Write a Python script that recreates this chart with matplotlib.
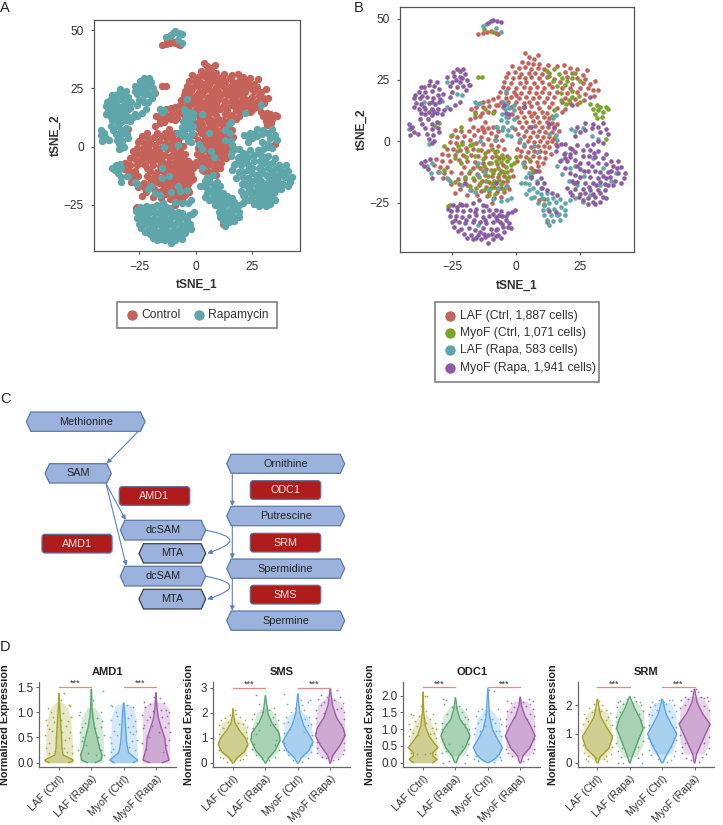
# Fibroblast tSNE maps, polyamine pathway and violin panels
import matplotlib
matplotlib.use('Agg')
import matplotlib.pyplot as plt
from matplotlib.patches import Polygon, Rectangle, FancyBboxPatch, FancyArrowPatch

plt.rcParams['font.family'] = ['Liberation Sans', 'DejaVu Sans']

W, H = 723, 825
RED, GREEN, TEAL, PURPLE = '#c5635a', '#7ba428', '#5fa6ab', '#8c5ba6'
INK = '#333333'

# tSNE points, grouped by cell type and condition
LAF_CTRL = [
    (-15, 43.5), (-13, 44), (-11.5, 44.6), (-10, 45), (-8, 44), (-7, 43.8),
    (5, 34.5), (7, 33.6), (2.2, 32.4), (4.6, 32), (6.6, 31.5), (9, 31.6), (-1.6, 30.6), (1, 30), (3.5, 30.4), (6, 29.6), (8.6, 30), (11, 29.4),
    (21, 30), (24, 29.6), (-3, 28), (-0.4, 28.3), (2, 27.6), (5, 27.9), (7.4, 28), (10, 27.5), (13, 28), (19, 28.2), (22, 27.7), (26, 27),
    (-4, 26), (-1.4, 25.6), (1, 26), (3.5, 25.8), (6, 26.3), (9, 25.7), (12, 26), (15, 25.5), (20, 26.1), (24, 25.6), (27, 25.5),
    (-4.6, 24), (-2, 23.7), (1.5, 23.6), (4, 24.2), (7, 23.8), (10, 24.1), (13, 23.5), (17, 24), (22, 23.4), (26, 23.7), (29, 23.4),
    (-5, 22), (-3, 21.6), (0, 21.8), (3, 22.1), (5.6, 21.5), (8, 22), (11, 21.6), (14, 22.1), (18, 21.6), (21, 21.9), (25, 21.5), (28, 21.8), (30, 21),
    (-4, 19.7), (-1, 20.2), (2, 19.7), (5, 20), (7.6, 19.6), (10, 20.2), (13, 19.8), (16, 20), (20, 19.6), (24, 19.9), (27, 19.4),
    (-7, 18), (-4, 17.7), (-2, 18.2), (1, 17.8), (4, 18.1), (6.5, 17.5), (9, 18), (12, 17.6), (15, 18), (19, 17.7), (23, 17.4),
    (-13, 16), (-11, 16.6), (-9, 17.2), (-6, 16), (-3, 15.8), (0, 16), (3, 15.6), (5, 16.1), (8, 15.7), (11, 16), (14, 15.6), (18, 15.8), (21, 15.4),
    (-15.5, 14), (-13, 13.8), (-10.5, 14.4), (-8, 14.6), (-5, 13.8), (-2, 14), (1, 13.7), (3, 13.9), (6, 14.2), (9, 13.7), (13, 14), (16, 13.6),
    (-16, 12), (-13.5, 11.6), (-11, 12), (-8.5, 12.2), (2, 11.8), (5, 12), (7, 11.5), (10, 12), (12, 11.6), (-16, 10), (-14, 10.4), (-3, 10), (3, 9.8), (6, 10.2), (8, 9.7), (11, 10), (13, 9.6),
    (1, 8), (4, 7.8), (6.5, 8.2), (9, 7.7), (12, 8), (14, 7.4), (2.5, 6), (5, 5.8), (7.5, 6.2), (10, 5.7), (12.5, 6), (15, 5.6), (4, 4), (6.6, 3.8), (9, 4.1), (11.5, 3.7), (14, 3.9),
    (3, 2), (5.5, 1.8), (8, 2.2), (10.5, 1.7), (13, 1.9), (15, 1.5), (4.5, 0), (7, -0.2), (9.5, 0.2), (12, -0.3), (14, 0), (3, -2), (6, -2.2), (8.5, -1.8), (11, -2.1), (13, -2.4),
    (2, -4), (4.5, -4.3), (7, -3.9), (9.5, -4.1), (11.5, -4.4), (1.5, -6), (4, -6.3), (6.5, -6), (9, -6.4), (0.5, -8), (3, -8.4), (5.5, -8), (8, -8.6), (3.5, -10.4), (6, -10.8), (8.5, -10.2), (6.5, -12.6),
    (-12, 7.8), (-13.5, 6), (-11, 5.4), (-15, 4.4), (-12.6, 3.6), (-10, 3.2), (-24, 4.4), (-21.5, 4), (-18.6, 4.2), (-16.4, 2.4), (-13.8, 1.6), (-11, 1), (-8.4, 0.6),
    (-25.5, 2), (-23, 1.6), (-20.4, 2), (-18, 0.6), (-26, -0.4), (-23.5, -0.6), (-21, -0.2), (-15.6, -0.6), (-12.8, -1), (-10, -1.6), (-7, -2), (-27, -3), (-24.6, -3), (-22, -3.4), (-19.4, -2.6), (-16.8, -3), (-13.8, -3.6), (-11, -4), (-8.4, -4.4),
    (-29, -5), (-26.5, -5.6), (-23.8, -5.4), (-20.6, -5.6), (-17.8, -5.4), (-14.8, -6), (-12, -6.4), (-9.4, -6.6), (-6.6, -7), (-31.5, -7.2), (-29, -8), (-26, -8), (-22.4, -7.8), (-19, -8), (-16, -8.4), (-13, -8.8), (-10.6, -9), (-7.6, -9.4), (-5, -9.6),
    (-32, -9.6), (-29.6, -10.4), (-27, -10.6), (-20.4, -10.4), (-17, -10.8), (-14, -11), (-11.6, -11.4), (-8.6, -11.8), (-6, -12), (-30.6, -12.4), (-28, -13), (-25.5, -12.6), (-21.6, -12.8), (-18.4, -13), (-15.4, -13.4), (-12, -13.6), (-9.6, -14), (-7, -14.4), (-4.6, -14),
    (-28.6, -15), (-22.8, -15.4), (-20, -15.4), (-16.4, -15.6), (-13.4, -16), (-10.6, -16.4), (-7.8, -16.6), (-5, -16.8), (-3.4, -16), (-25.5, -17.4), (-22.4, -17.6), (-19, -17.8), (-14.6, -18), (-11.6, -18.6), (-8.8, -18.8), (-6, -19), (-3.6, -18.4),
    (-22, -19.6), (-17.6, -20), (-13.8, -20.2), (-10.6, -20.6), (-7.6, -20.8), (-4.8, -20.6), (-11.4, -22.4), (-8.6, -23), (-9.4, -25), (-26, -26), (9, -24), (11, -23.4), (10.8, -25.8), (12.2, -33),
    (-8, 2), (-5.6, 0.4), (-4.6, -3), (-3.4, -6), (-2, -11.6), (-1.4, -14), (-2.8, -19.6), (-6, -22.6), (-19, -21.8), (-24, -21), (-15.4, -22), (-12.8, 5), (-17, 6), (-9, 5.8), (-7, 4), (0, 18.8), (-6.4, 20), (-1.6, 11), (0.4, 10), (-0.6, 5), (0.8, 3), (1, -0.4), (0.4, -3.2),
    (16, 7), (16.6, 4), (15.6, -1), (13.6, -5), (11.4, -7), (10.6, -9), (9, -12), (17.8, 12), (19, 13.2), (24, 15), (26.6, 17), (30.4, 18.6), (32, 21), (3.6, 36), (8.4, 35), (12.6, 31), (16, 30.6), (18.6, 31), (27.6, 29), (31, 24.6), (-7, 14.8), (-18, 9), (-17.6, 13),
]
MYOF_CTRL = [
    (-12.6, 45.6), (-9, 44.5), (-15, 26), (-13.4, 26.2), (-18, 23), (12, 28.6), (15, 29.4), (16.6, 27.6), (14.6, 24.6), (18, 25.6), (20, 24.4), (23, 27.8), (16, 22.4), (19, 22.8),
    (21.8, 20.6), (24.6, 18.6), (22, 18), (17.6, 17), (25, 15.8), (19.6, 15), (15, 12.6), (14, 10.4), (30, 13), (31, 11), (32, 12.8), (33, 14), (34, 12), (35, 13.8), (36, 13), (31.6, 9.4), (35, 1), (-21.5, 6), (-30, 7.6), (-31.8, 6.4),
    (-25, 2.6), (-21, -1), (-18, -1.6), (-24, -7), (-22.6, -1.8), (-19.6, -6.6), (-17, -1), (-15, -3.4), (-28, -2), (-12, -4.6), (-9.6, -3), (-7.4, -4), (-5.4, -5.6), (-3.6, -8), (-2, -9.6), (-4, -10.6), (-6, -8.4), (-8, -6), (-10, -9), (-13, -7.4), (-3.4, -12.6), (-6.6, -13.2),
    (-9, -12.8), (-11, -14), (-13, -12), (-15.4, -10), (-18, -12), (-20, -14.6), (-17, -15), (-14, -17), (-11.6, -16), (-8.6, -16), (-6, -17.6), (-3.6, -15), (-15.6, -19), (-18, -18.4), (-12.6, -20), (-10, -19), (-7, -19.4), (-8.4, -21.6), (-10.6, -22), (-4.6, -19.6),
    (-24, -16.6), (-26.6, -15.4), (-28, -11.6), (3, -10), (5, -7.4), (0, -6.6), (6, -14), (6.6, -11.6), (11, -25.6), (-26.6, -26.4), (-9, 11.6), (-12, 13), (-16, 11),
    (-2.6, -7), (-1, -9), (-5, -7), (-7, -11), (-4.6, -12.6), (-2.6, -14.6), (-8, -8), (-10, -11.6), (-12.6, -10), (-16, -6), (-19, -4), (-23, -4), (-21.6, -9), (-14.6, -14.4), (-6.6, -15.6), (-9.6, -17.6), (29, 15), (31.6, 14.6), (33.6, 10), (13, 26.6), (22, 25.6), (25, 24.6), (17.6, 19.6), (20.6, 17),
]
LAF_RAPA = [
    (-13, 47), (-11.6, 47.6), (-8, 46), (-6, 44.6), (-27, 24), (-23, 19.4), (-21, 19), (-36, 16), (-29, 16.6), (-27, 14), (-15, 15), (-16, 16), (-14, 15.6), (-4, 20.6), (-3.4, 15), (-2.6, 13.6), (-4.4, 13), (-1, 12.6), (-5.6, 11), (-4, 10), (-1, 9), (-6, 8.6), (-3.4, 8), (-5, 6), (-5.6, 4.4), (-7.6, 5.8),
    (-3.4, 2.6), (-2, 2), (1.6, 1), (3, -1), (13, 3), (15.6, 2.6), (16, 0.6), (14.6, 9.6), (15.6, 10.6), (23, 4), (21.6, 5), (26, 5.6), (29.6, 2), (32, 1), (-42, 5), (-34, -1), (-33, -9), (-35, -10), (-33.4, -13), (-30, -12.6), (-27, -15), (-26, -16), (-21, -18), (-18, -20), (-16, -20.6),
    (-9, -23.6), (-6, -24.2), (-3.6, -24), (-2, -23), (-15, -9), (-15, -13.6), (-12, -12.6), (-11, -19.4), (-7, -19), (-4, -18.4), (-14, 0), (-8, 0.6), (-8, 6), (2.6, -9), (7, -2), (8, -4.4), (5, -13), (6, -15), (3.6, -17), (5, -17.6), (6.6, -19), (5, -20), (8, -20.6), (9.6, -21.6), (7, -22.6), (10, -23), (12, -23.6), (8.6, -25), (11, -26), (13, -25), (15.6, -24.6),
    (10.4, -28), (12.6, -27.6), (15, -27.4), (17.6, -26.6), (11, -30), (13.6, -30), (16, -30), (12, -32), (14.6, -32.4), (17, -32), (19, -28), (21, -24), (23, -23), (26, -24.6), (29, -22), (16, -10), (17.4, -7.6), (19, -4.6), (21, -11), (23, -10), (18, -13.4), (20.6, -16), (24, -18), (26.6, -14), (30, -7), (34, -11), (37, -16), (33, -18), (39, -13), (-15, -34),
    (6, -23), (4, -21.6), (12, -21), (14.6, -23), (17, -23.6), (19, -25), (16.6, -29.6), (19, -30), (13, -34), (9.6, -19), (8, -16), (4, -14.6), (-1.6, 6), (-3, 4.4), (-1, 14.6), (-5, 16), (2, -17),
]
MYOF_RAPA = [
    (-11, 48), (-10, 49), (-9, 49.5), (-7.6, 49), (-6, 48.6), (-27, 26), (-24.6, 28.4), (-22, 28.6), (-20, 27.6), (-19, 25), (-21, 25.6), (-23.6, 25), (-26, 22.6), (-23, 22), (-20.6, 22.6), (-19.6, 21), (-25, 20), (-28.6, 19.4),
    (-36, 22), (-34, 23), (-32, 22.6), (-30, 21.4), (-38, 20), (-35.6, 20), (-33, 20.4), (-30.6, 19), (-40, 17.6), (-37.6, 17.6), (-35, 18), (-32.4, 17.6), (-29.6, 17.4), (-39, 15.4), (-37, 15), (-34, 15.4), (-31.6, 15), (-38, 13), (-35.6, 13), (-33, 13), (-30.4, 13), (-28, 12.6), (-26, 13), (-24, 14.6), (-22, 16), (-35.6, 11), (-33, 10.8), (-31, 11.6),
    (-34.6, 9), (-33, 7), (-42, 7), (-41, 5.6), (-40, 3.6), (-38.4, 3), (-40.6, 6), (-35.6, 5.6), (-33, 4.8), (-30.6, 5.6), (-35, 3), (-32.6, 2.6), (-30, 3.8), (-34, 1), (-33, -0.6), (-35.6, -8), (-37, -9), (-36, -10), (-33.6, -7.4), (-34.6, -11.4), (-33, -15), (-20, -17), (-8, -17), (-4.6, 14.8), (-2.6, 11),
    (-24.6, -26), (-22, -25.4), (-19.6, -26), (-17, -25), (-14.6, -24), (-13, -26), (-25.6, -28.4), (-23, -28), (-20.6, -28.4), (-18, -28), (-15.6, -27.4), (-13, -28.6), (-10.6, -28), (-8, -28), (-6, -28.6), (-26, -30.6), (-23.6, -30.4), (-21, -31), (-18.4, -30.6), (-15.6, -30), (-13, -31), (-10.4, -30.4), (-8, -31), (-5.4, -30.4), (-3, -29.4),
    (-25, -33), (-22.4, -33), (-20, -33.4), (-17, -33), (-14, -33), (-11.6, -33.4), (-9, -33), (-6.4, -33), (-4, -32), (-2.6, -33.4), (-24.4, -35), (-21.4, -35.6), (-18.6, -35.4), (-16, -36), (-13, -35.4), (-10, -35.6), (-7.4, -35.6), (-5, -35), (-2, -35.4), (-20.4, -37.6), (-17.6, -38), (-15, -38), (-12.4, -37.6), (-9.6, -37.6), (-7, -38), (-4.6, -37), (-17, -40), (-13.6, -40), (-11, -41.4), (-9, -40), (-6, -39.6), (-1.6, -29), (-0.6, -28),
    (16, -2), (19, -1), (21, -2.6), (24, -1.6), (26, -3.6), (29, -3.4), (32, -4), (35, -5), (15.6, -4), (18.6, -5), (21, -5), (23, -4.4), (26, -6), (28.6, -6), (31, -6.6), (34, -7), (37, -8), (40, -8), (17, -8), (20, -8), (23, -7.6), (25, -9), (28, -9), (32, -9), (35, -9.4), (38, -10), (41, -10.6), (19, -11), (25, -11.4), (28, -12), (31, -12), (33, -12.6), (36, -12.6), (40, -13), (42.6, -13), (42, -15),
    (23, -13.6), (25, -14.6), (29, -14.6), (32, -15), (35, -15), (38.6, -16), (41, -17), (22, -16), (27, -17), (30, -17), (33, -16.4), (36, -18), (20, -19), (23, -19.6), (26, -19.6), (29, -20), (32, -20), (34.6, -20), (22, -22), (25, -21.6), (28, -23), (31, -22.6), (34, -22.6), (26, -24), (30, -24.6), (33, -24.6),
    (23, 2), (25, 3.6), (27, 4.6), (29.6, 5.6), (32, 6), (34, 7.6), (30, 7), (27, 7.6), (35, 5), (36, 3), (33, 3.6), (24, 6), (32, 0), (30, -1), (34, -0.6),
    (6, -14.6), (7.6, -12), (9.6, -15), (11, -17), (8, -17), (10, -19), (12, -20), (14, -21), (16, -22), (13, -28.6), (15.6, -29), (6, 6), (13, 7), (15, 6), (-4, 11.6), (3, 14), (-11, -38), (22, 14.6), (29, 18),
    (22, -3), (27.6, -1.6), (30.6, -4.6), (24, -10), (21, -6.6), (29.6, -10), (37, -12), (39.6, -11), (34, -14), (36.6, -14.6), (26.6, -12), (21, -13), (24, -16.6), (28.6, -18.6), (31.4, -18), (34.6, -17.6), (38, -18), (21, -20.6), (24.6, -22.6), (27, -21), (30, -21.4), (33, -21), (35, -23), (28, -25.6), (31, -25.6), (22.6, -17), (19, -7), (17.6, -1),
    (-23, -26.6), (-21, -26), (-16, -29), (-11.6, -26.4), (-9, -29.6), (-6.6, -30), (-4, -30.6), (-24, -32), (-19.4, -32), (-16.4, -32), (-12, -32), (-7.6, -32), (-22.6, -36.6), (-14, -37), (-8, -36), (-5.4, -33.6), (-3, -35), (-19, -39.4), (-15.6, -39.6), (-12, -39), (-8, -38.6), (-26.6, -27.6),
    (-37, 22), (-33.6, 24.6), (-31, 24), (-39.4, 19), (-36.6, 18.6), (-33, 16), (-30, 16), (-40, 14), (-36, 14), (-32, 12), (-29, 11), (-37, 11.6), (-34, 12), (-37.6, 9), (-24.4, 26.6), (-22, 26), (-25, 24), (-22, 24), (-18.6, 23), (-20.6, 29.4), (-23, 29.4), (-26, 18), (-31, 8), (-36.6, 7), (-32, 0), (-41.6, 2.6),
]

# Tick values of the two tSNE maps
TSNE_XTICKS = [-25, 0, 25]
TSNE_YTICKS = [-25, 0, 25, 50]

LEGEND_A = ['Control', 'Rapamycin']
LEGEND_B = ['LAF (Ctrl, 1,887 cells)', 'MyoF (Ctrl, 1,071 cells)', 'LAF (Rapa, 583 cells)', 'MyoF (Rapa, 1,941 cells)']

# Pathway boxes: label, left, right, top, bottom in pixels
HEX_NODES = [
    ('Methionine', 26.3, 145, 412, 431.3), ('SAM', 45, 111.3, 463.7, 483),
    ('dcSAM', 120.3, 205.7, 520.3, 540), ('MTA', 139, 205.7, 543.7, 563),
    ('dcSAM', 120.3, 205.7, 566.3, 586), ('MTA', 139, 205.7, 589.3, 609),
    ('Ornithine', 226.7, 344.7, 454.3, 473.3), ('Putrescine', 226.7, 344.7, 506.3, 525.7),
    ('Spermidine', 226.7, 344.7, 559, 578.3), ('Spermine', 226.7, 344.7, 611, 630.3),
]
ENZYME_NODES = [
    ('AMD1', 119.3, 189.7, 486.7, 505.3), ('AMD1', 42, 112, 534.3, 553),
    ('ODC1', 250.3, 320.7, 480.7, 499.3), ('SRM', 250.3, 320.7, 533.3, 552),
    ('SMS', 250.3, 320.7, 585.3, 604),
]
STRAIGHT_ARROWS = [
    ((138.3, 431.3), (106.7, 463.5)), ((106, 483.5), (125.7, 520)), ((106, 483.5), (126.3, 565.7)),
    ((232.3, 473.3), (232.3, 506)), ((232.3, 525.7), (232.3, 558.7)), ((232.3, 578.3), (232.3, 610.7)),
]
CURVED_ARROWS = [((205.7, 530.3), (207.3, 553.3)), ((205.7, 576.3), (207.3, 599.3))]

# Violin panels
GROUPS = ['LAF (Ctrl)', 'LAF (Rapa)', 'MyoF (Ctrl)', 'MyoF (Rapa)']
GROUP_COLORS = ['#a3a32a', '#58a76f', '#5ba6e2', '#a05bab']
GENES = ['AMD1', 'SMS', 'ODC1', 'SRM']
YTICKS = {'AMD1': [0, 0.5, 1, 1.5], 'SMS': [0, 1, 2, 3], 'ODC1': [0, 0.5, 1, 1.5, 2], 'SRM': [0, 1, 2]}
YTICKLABELS = {'AMD1': ['0.0', '0.5', '1.0', '1.5'], 'SMS': ['0', '1', '2', '3'], 'ODC1': ['0.0', '0.5', '1.0', '1.5', '2.0'], 'SRM': ['0', '1', '2']}
YLIMS = {'AMD1': (-0.08, 1.6), 'SMS': (-0.15, 3.24), 'ODC1': (-0.12, 2.41), 'SRM': (-0.14, 2.81)}
BRACKET_Y = {'AMD1': 1.5, 'SMS': 3.0, 'ODC1': 2.25, 'SRM': 2.62}

# Outline of each violin: (values, half widths)
OUTLINES = {
    'AMD1': [
        ([0, .03, .05, .1, .15, .3, .5, .7, .9, 1.1, 1.37], [.3, .42, .44, .3, .13, .09, .08, .06, .04, .02, .004]),
        ([0, .05, .15, .3, .5, .7, .9, 1.1, 1.45], [.12, .3, .33, .25, .18, .1, .05, .02, .004]),
        ([0, .05, .12, .2, .4, .6, .8, 1.0, 1.18], [.3, .43, .3, .15, .09, .07, .05, .03, .006]),
        ([0, .05, .15, .3, .5, .7, .9, 1.1, 1.38], [.2, .4, .36, .3, .27, .16, .07, .03, .004]),
    ],
    'SMS': [
        ([0, .2, .45, .75, 1.0, 1.3, 1.6, 1.9, 2.15], [.02, .12, .35, .46, .38, .2, .06, .02, .004]),
        ([0, .2, .5, .9, 1.2, 1.6, 2.0, 2.68], [.01, .1, .3, .45, .42, .2, .07, .004]),
        ([0, .2, .5, .85, 1.1, 1.5, 2.0, 2.75], [.02, .1, .34, .47, .36, .18, .06, .004]),
        ([0, .3, .7, 1.1, 1.4, 1.8, 2.3, 2.95], [.01, .08, .3, .46, .4, .2, .07, .004]),
    ],
    'ODC1': [
        ([0, .1, .2, .3, .45, .6, .8, 1.1, 1.5, 2.1], [.3, .43, .3, .3, .46, .33, .18, .07, .02, .004]),
        ([0, .2, .45, .8, 1.0, 1.3, 1.6, 1.93], [.02, .1, .3, .45, .36, .14, .05, .004]),
        ([0, .1, .25, .45, .7, 1.0, 1.4, 2.2], [.02, .2, .35, .45, .3, .14, .05, .004]),
        ([0, .2, .45, .8, 1.1, 1.4, 1.7, 1.95], [.02, .08, .3, .46, .32, .14, .04, .004]),
    ],
    'SRM': [
        ([0, .2, .5, .9, 1.2, 1.6, 2.2], [.02, .08, .35, .47, .3, .1, .004]),
        ([0, .2, .6, 1.2, 1.5, 1.9, 2.3], [.01, .07, .2, .41, .33, .15, .004]),
        ([0, .2, .6, 1.0, 1.3, 1.7, 2.2], [.02, .1, .3, .45, .3, .12, .01]),
        ([0, .3, .8, 1.35, 1.7, 2.1, 2.55], [.01, .06, .26, .48, .25, .08, .004]),
    ],
}
# Extent of the dense part of each jitter cloud: (values, half widths)
CLOUDS = {
    'AMD1': [
        ([0, .1, .3, .6, .9, 1.1, 1.2], [.43, .43, .42, .4, .36, .25, .1]),
        ([0, .3, .6, .9, 1.1], [.35, .38, .36, .3, .12]),
        ([0, .2, .5, .9, 1.15], [.43, .43, .4, .38, .25]),
        ([0, .5, .9, 1.1, 1.2], [.43, .42, .42, .38, .2]),
    ],
    'SMS': [
        ([.1, .4, .8, 1.2, 1.6, 1.8], [.1, .42, .46, .44, .36, .1]),
        ([.2, .5, 1.0, 1.5, 2.0, 2.2], [.2, .42, .44, .4, .28, .1]),
        ([.2, .5, 1.0, 1.5, 1.8, 2.1], [.25, .42, .46, .42, .35, .1]),
        ([.2, .6, 1.2, 1.8, 2.3, 2.6], [.3, .44, .46, .44, .4, .15]),
    ],
    'ODC1': [
        ([0, .1, .5, .9, 1.2, 1.45], [.4, .43, .44, .38, .25, .1]),
        ([.2, .5, 1.0, 1.4, 1.7], [.25, .42, .44, .38, .15]),
        ([.05, .4, .9, 1.3, 1.6], [.3, .44, .4, .34, .1]),
        ([.2, .5, 1.0, 1.5, 1.85], [.3, .44, .46, .42, .2]),
    ],
    'SRM': [
        ([.1, .4, .9, 1.4, 1.75, 1.9], [.15, .42, .46, .42, .3, .1]),
        ([.2, .6, 1.2, 1.8, 2.15], [.2, .4, .45, .42, .2]),
        ([.3, .7, 1.2, 1.7, 2.1], [.3, .42, .44, .42, .25]),
        ([.3, .7, 1.3, 1.9, 2.3], [.3, .45, .47, .45, .25]),
    ],
}
# Sparse jitter dots: (offset from category, value)
DOTS = {
    'AMD1': [
        [(-.35, 1.08), (.3, 1.15), (.34, 1.13), (-.25, 1.0), (.12, .98), (-.4, .85), (.38, .9), (-.15, .8), (.22, .72), (-.3, .66), (.05, 1.25), (.15, 1.38), (-.42, .55), (.35, .6), (-.1, .5), (.2, .45), (-.3, .4), (.4, .33), (-.2, .9), (.28, .82), (-.36, .75), (.1, .6), (-.22, .62), (.32, .48), (-.4, .3), (.15, .3), (-.12, .24), (.26, .22), (-.3, .2), (.4, .2), (.05, .85), (-.05, .7)],
        [(-.35, 1.0), (.3, 1.0), (-.38, .95), (.35, 1.42), (-.2, .78), (.18, .88), (.3, .7), (-.36, .6), (.38, .55), (-.12, .62), (.1, .68), (-.3, .42), (.25, .35), (-.4, .25), (.4, .15), (.34, .82), (-.25, .5), (.05, 1.25), (-.3, .7), (.22, .5), (-.15, .35), (.3, .25), (-.35, .15), (.15, .15), (-.1, .2)],
        [(-.4, 1.15), (-.36, 1.12), (-.02, 1.17), (.3, 1.1), (.1, 1.15), (-.25, 1.0), (.22, .95), (-.38, .85), (.36, .82), (-.15, .76), (.12, .7), (-.3, .62), (.3, .56), (-.42, .5), (.4, .44), (-.12, .38), (.18, .32), (-.32, .28), (.28, .72), (-.22, .55), (.38, .62), (-.38, .4), (.25, .42), (-.2, .92), (.2, .6), (-.4, .22), (.35, .26), (.14, .88)],
        [(-.38, 1.2), (-.2, 1.16), (.25, 1.18), (-.34, 1.1), (.12, 1.28), (.3, 1.05), (-.1, 1.02), (.4, 1.0), (-.42, .95), (.2, .9), (-.28, .85), (.36, .78), (-.05, 1.3), (.28, .7), (-.4, .68), (.1, .6), (-.22, .5), (.4, .45), (.34, .92), (-.36, .74), (-.18, .9), (.15, 1.05), (.42, .6), (-.42, .4), (.3, .35), (-.3, .28), (.22, .22), (-.12, .72)],
    ],
    'SMS': [
        [(-.38, 1.7), (.36, 1.72), (-.25, 1.8), (.22, 1.82), (.1, 1.95), (-.1, 1.9), (.05, 2.1), (-.4, .25), (.4, .3), (-.3, .2), (.3, .15), (-.18, .05), (.2, .1), (-.42, 1.5), (.43, 1.45), (-.15, 1.65), (.15, 1.6), (-.05, .1), (.3, 1.55), (-.32, 1.4), (.4, 1.25), (-.44, 1.15), (.42, 1.0), (-.44, .85), (.44, .7), (-.42, .5)],
        [(-.3, 2.7), (-.2, 2.35), (.25, 2.2), (.3, 1.95), (-.36, 1.95), (.1, 2.1), (-.12, 2.05), (.38, 1.7), (-.4, 1.75), (-.28, .3), (.3, .25), (.12, .12), (-.42, .55), (.43, .5), (.22, 1.85), (-.25, 1.6), (.36, 1.3), (-.1, .15), (-.38, 1.4), (.42, 1.05), (-.44, 1.0), (.3, .7), (-.35, .75), (.28, 1.55), (-.2, 1.3), (.15, 1.5), (-.3, 1.15), (.34, .9)],
        [(-.42, 2.75), (.1, 2.5), (.32, 2.42), (.38, 2.5), (-.32, 2.35), (.2, 2.1), (-.2, 2.05), (.34, 1.85), (-.38, 1.85), (.12, 2.3), (-.1, 2.2), (-.3, .3), (.3, .2), (.4, .42), (-.42, .5), (.22, 1.75), (-.15, .1), (.12, .05), (-.42, 1.6), (.42, 1.55), (-.3, 1.65), (.3, 1.5), (-.44, 1.2), (.44, 1.1), (-.25, 1.35), (.2, 1.25), (-.44, .8), (.44, .7)],
        [(-.3, 2.7), (.2, 2.9), (-.1, 2.65), (.3, 2.62), (-.38, 2.55), (.4, 2.4), (-.2, 2.45), (.12, 2.5), (-.4, .4), (.38, .35), (-.25, .25), (.25, .15), (.1, .1), (-.42, .6), (.44, .5), (-.12, .2), (.32, 2.2), (-.3, 2.3), (-.44, 2.1), (.44, 2.05), (-.2, 2.0), (.2, 2.15), (-.44, 1.8), (.44, 1.75), (-.34, 1.5), (.34, 1.55), (-.44, 1.2), (.44, 1.1), (-.4, .85), (.42, .8)],
    ],
    'ODC1': [
        [(.05, 2.0), (.12, 1.98), (-.38, 1.46), (-.32, 1.42), (.3, 1.45), (.36, 1.2), (-.25, 1.25), (.2, 1.3), (-.42, 1.15), (-.12, 1.4), (.4, 1.02), (.1, 1.55), (-.05, 1.7), (-.4, 1.0), (.28, 1.05), (-.18, 1.1), (.08, 1.18), (.34, .9), (-.3, .9), (-.42, .8), (.4, .75), (.2, .85), (-.15, .82), (-.38, .3), (.38, .27), (-.2, .25), (.2, .28), (.05, .27)],
        [(-.38, 1.9), (-.35, 1.75), (-.3, 1.88), (.32, 1.6), (-.12, 1.65), (.2, 1.5), (-.25, 1.45), (.38, 1.3), (-.4, 1.2), (.28, 1.35), (-.38, 0), (.3, 0), (-.42, .3), (.36, .22), (-.2, .05), (-.3, .35), (.1, 1.7), (.4, .55), (-.4, 1.0), (.42, 1.0), (-.3, 1.15), (.3, 1.15), (-.2, .55), (.2, .5), (-.42, .7), (.42, .75)],
        [(-.3, 1.55), (.05, 2.18), (.18, 2.15), (-.38, 1.4), (.36, 1.3), (-.22, 1.3), (.3, 1.6), (-.1, 1.45), (.22, 1.2), (-.4, 1.05), (.4, 1.15), (-.3, 1.2), (.12, 1.3), (-.42, .1), (.4, .08), (.2, .02), (-.3, .05), (-.18, 1.6), (-.42, .85), (.42, .8), (-.25, .95), (.25, .95), (-.1, 1.1), (.34, .95), (-.38, .2), (.36, .18)],
        [(-.42, 1.85), (.4, 1.85), (.3, 1.75), (-.3, 1.78), (.18, 1.7), (-.18, 1.65), (.38, 1.6), (-.42, 1.55), (.1, 1.8), (-.05, 1.9), (.28, 1.9), (.44, 1.4), (-.44, 1.3), (-.38, .28), (.4, .3), (-.25, .2), (.25, .12), (.1, .05), (-.3, 1.5), (.3, 1.45), (-.44, 1.1), (.44, 1.1), (-.44, .75), (.44, .7), (-.2, 1.35), (.2, 1.3), (-.44, .4), (.44, .42)],
    ],
    'SRM': [
        [(-.4, 1.7), (.38, 1.72), (-.25, 1.9), (.25, 1.85), (.15, 2.0), (-.1, 2.05), (.05, 2.15), (-.35, .12), (-.3, .05), (.3, .05), (.2, .12), (-.42, .35), (.42, .3), (-.18, 1.75), (.12, 1.8), (-.05, .18), (.34, 1.6), (-.36, 1.55), (-.44, 1.35), (.44, 1.3), (-.3, 1.45), (.25, 1.5), (-.44, .6), (.44, .55), (-.3, .25), (.26, .22)],
        [(-.38, 2.12), (-.3, 2.15), (.3, 2.1), (.35, 2.0), (-.4, 1.95), (-.2, 2.05), (.2, 2.15), (.42, 1.8), (-.42, 1.6), (-.35, 0), (-.2, 0), (.38, 0), (.38, .3), (-.38, .4), (.12, 2.28), (-.1, 2.22), (.25, .15), (-.28, .2), (-.42, 1.2), (.44, 1.25), (-.3, 1.75), (.28, 1.7), (-.42, .7), (.42, .75), (-.25, .5), (.26, .55), (-.36, 1.45), (.36, 1.5)],
        [(-.1, 2.2), (.2, 2.2), (.3, 2.18), (-.3, 2.12), (.38, 2.0), (-.38, 1.95), (-.22, 2.0), (.12, 2.05), (.42, 1.8), (-.42, 1.7), (-.35, .28), (.36, .25), (.15, .02), (-.12, .12), (.28, .1), (-.4, .45), (.4, .4), (.05, 2.12), (-.42, 1.3), (.44, 1.25), (-.3, 1.65), (.3, 1.6), (-.44, .85), (.44, .8), (-.28, .6), (.26, .55), (-.15, 1.85), (.2, 1.8)],
        [(-.42, 2.2), (-.3, 2.3), (.1, 2.45), (.2, 2.3), (.38, 2.3), (.42, 2.15), (-.2, 2.22), (.3, 2.25), (-.1, 2.5), (.05, 2.55), (-.38, .35), (.36, .3), (-.25, .15), (.22, .2), (-.4, .55), (.44, .5), (.15, .02), (-.12, .1), (-.44, 1.9), (.44, 1.85), (-.3, 2.0), (.3, 1.98), (-.44, 1.4), (.44, 1.35), (-.44, .95), (.44, .9), (-.3, .7), (.3, .68)],
    ],
}


def px_axes(fig, x0, y0, x1, y1):
    return fig.add_axes([x0 / W, 1 - y1 / H, (x1 - x0) / W, (y1 - y0) / H])


def tsne_axes(fig, box, xlim, ylim):
    ax = px_axes(fig, *box)
    ax.set_xlim(*xlim)
    ax.set_ylim(*ylim)
    ax.set_xticks(TSNE_XTICKS, ['\u221225', '0', '25'])
    ax.set_yticks(TSNE_YTICKS, ['\u221225', '0', '25', '50'])
    ax.tick_params(labelsize=8.6, length=2.5, width=0.8, color='#555555', labelcolor=INK, pad=4.5)
    ax.set_xlabel('tSNE_1', fontsize=8.6, fontweight='bold', color=INK, labelpad=4.5)
    ax.set_ylabel('tSNE_2', fontsize=8.6, fontweight='bold', color=INK, labelpad=1.5)
    for s in ax.spines.values():
        s.set_color('#555555')
        s.set_linewidth(0.9)
    return ax


def scatter_group(ax, pts, color, size):
    ax.scatter([p[0] for p in pts], [p[1] for p in pts], s=size, color=color, linewidths=0)


def hexagon(ov, left, right, top, bottom, edge='#5d79a8', lw=0.9):
    mid = (top + bottom) / 2
    d = 4.5
    pts = [(left, mid), (left + d, top), (right - d, top), (right, mid), (right - d, bottom), (left + d, bottom)]
    ov.add_patch(Polygon(pts, closed=True, facecolor='#9bb3dc', edgecolor=edge, linewidth=lw, zorder=3))


fig = plt.figure(figsize=(W / 100, H / 100), dpi=100)

# Panel A
ax_a = tsne_axes(fig, (93.7, 20, 300, 251), (-45.3, 46.3), (-44.8, 54.4))
scatter_group(ax_a, LAF_CTRL + MYOF_CTRL, RED, 28)
scatter_group(ax_a, LAF_RAPA + MYOF_RAPA, TEAL, 28)

# Panel B
ax_b = tsne_axes(fig, (399.7, 7, 634, 251.7), (-45.5, 46.1), (-45, 54.7))
scatter_group(ax_b, LAF_CTRL, RED, 11)
scatter_group(ax_b, MYOF_CTRL, GREEN, 11)
scatter_group(ax_b, LAF_RAPA, TEAL, 11)
scatter_group(ax_b, MYOF_RAPA, PURPLE, 11)

# Overlay in pixel coordinates for legends, letters and the pathway
ov = fig.add_axes([0, 0, 1, 1], zorder=5)
ov.set_xlim(0, W)
ov.set_ylim(H, 0)
ov.axis('off')

for letter, x, y in [('A', 0, 8), ('B', 354, 8), ('C', 0, 399), ('D', 0, 647)]:
    ov.text(x, y, letter, fontsize=10.5, color='#222222', ha='left', va='center')

ov.add_patch(Rectangle((116.7, 301.7), 160, 26, facecolor='white', edgecolor='#808080', linewidth=1.2))
for cx, tx, col, lab in zip([131.7, 199], [141, 208], [RED, TEAL], LEGEND_A):
    ov.scatter([cx], [314.7], s=56, color=col, linewidths=0)
    ov.text(tx, 314.7, lab, fontsize=8.7, color=INK, va='center')

ov.add_patch(Rectangle((435.3, 301.7), 164, 80.6, facecolor='white', edgecolor='#808080', linewidth=1.2))
for cy, col, lab in zip([316, 333, 350.3, 368], [RED, GREEN, TEAL, PURPLE], LEGEND_B):
    ov.scatter([450.3], [cy], s=56, color=col, linewidths=0)
    ov.text(459.7, cy, lab, fontsize=8.7, color=INK, va='center')

# Panel C
for lab, left, right, top, bottom in HEX_NODES:
    dark = lab == 'MTA'
    hexagon(ov, left, right, top, bottom, edge='#3c3f4a' if dark else '#5d79a8')
    ov.text((left + right) / 2, (top + bottom) / 2, lab, fontsize=7.8, color='#222222', ha='center', va='center', zorder=4)
for lab, left, right, top, bottom in ENZYME_NODES:
    ov.add_patch(FancyBboxPatch((left + 2, top + 2), right - left - 4, bottom - top - 4, boxstyle='round,pad=2,rounding_size=3',
                                facecolor='#b01c1c', edgecolor='#5d6f9c', linewidth=0.9, zorder=3))
    ov.text((left + right) / 2, (top + bottom) / 2, lab, fontsize=7.8, color='#f3e6e6', ha='center', va='center', zorder=4)
for start, end in STRAIGHT_ARROWS:
    ov.add_patch(FancyArrowPatch(start, end, arrowstyle='-|>', mutation_scale=6.5, color='#5b80c8', linewidth=0.8,
                                 shrinkA=0, shrinkB=0, zorder=2))
for start, end in CURVED_ARROWS:
    ov.add_patch(FancyArrowPatch(start, end, connectionstyle='arc3,rad=-2.0', arrowstyle='-|>', mutation_scale=6.5,
                                 color='#5b80c8', linewidth=0.8, shrinkA=0, shrinkB=0, zorder=2))

# Panel D
boxes = {'AMD1': (39.3, 682, 175.7, 766.7), 'SMS': (213.3, 682, 350, 766.7),
         'ODC1': (403.3, 682, 540, 766.7), 'SRM': (577.7, 682, 714.3, 766.7)}
label_x = {'AMD1': 5, 'SMS': 188.7, 'ODC1': 370, 'SRM': 552.7}
for gene in GENES:
    ax = px_axes(fig, *boxes[gene])
    for i, col in enumerate(GROUP_COLORS):
        cv, cw = CLOUDS[gene][i]
        ax.fill_betweenx(cv, [i - w for w in cw], [i + w for w in cw], color=col, alpha=0.25, linewidth=0)
        vv, vw = OUTLINES[gene][i]
        ax.fill_betweenx(vv, [i - w for w in vw], [i + w for w in vw], color=col, alpha=0.35, linewidth=0)
        ax.plot([i - w for w in vw], vv, color=col, lw=1)
        ax.plot([i + w for w in vw], vv, color=col, lw=1)
        ax.scatter([i + d[0] for d in DOTS[gene][i]], [d[1] for d in DOTS[gene][i]], s=1.6, color=col, alpha=0.9, linewidths=0)
    ax.set_xlim(-0.61, 3.61)
    ax.set_ylim(*YLIMS[gene])
    ax.set_xticks(range(4), GROUPS, rotation=45, ha='right', rotation_mode='anchor')
    ax.set_yticks(YTICKS[gene], YTICKLABELS[gene])
    ax.tick_params(labelsize=8.4, length=2.2, width=0.7, color='#666666', labelcolor=INK, pad=2)
    ax.tick_params(axis='x', pad=3, labelsize=7.6)
    ax.set_ylabel('Normalized Expression', fontsize=7.8, fontweight='bold', color='#222222', va='center')
    x0, _, x1, _ = boxes[gene]
    ax.yaxis.set_label_coords((label_x[gene] - x0) / (x1 - x0), 0.5)
    ax.set_title(gene, fontsize=8, fontweight='bold', color='#222222', pad=5)
    for side in ['top', 'right']:
        ax.spines[side].set_visible(False)
    for side in ['left', 'bottom']:
        ax.spines[side].set_color('#666666')
        ax.spines[side].set_linewidth(0.9)
    by = BRACKET_Y[gene]
    for a, b in [(0, 1), (2, 3)]:
        ax.plot([a, b], [by, by], color='#e58d85', lw=0.9, clip_on=False)
        ax.annotate('***', (a + 0.5, by), xytext=(0, -0.8), textcoords='offset points', fontsize=6.5, ha='center', va='bottom', color='#333333')

fig.savefig('out.png', dpi=100)
